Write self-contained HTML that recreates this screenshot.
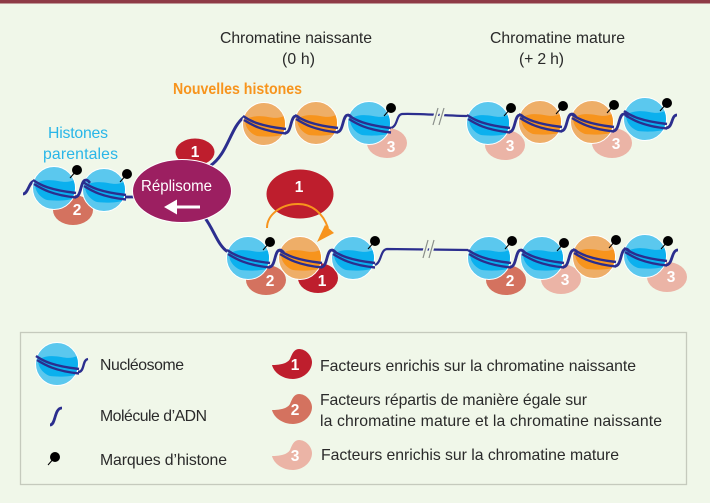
<!DOCTYPE html>
<html lang="fr"><head><meta charset="utf-8"><title>Chromatine</title>
<style>
html,body{margin:0;padding:0;background:#f0f7e9}
svg{display:block}
text{font-family:"Liberation Sans",sans-serif}
.t{font-size:15.8px;fill:#2a2a2a}
.n{font-size:15.5px;font-weight:bold;fill:#fff;text-anchor:middle}
</style></head><body>
<svg width="710" height="503" viewBox="0 0 710 503" xmlns="http://www.w3.org/2000/svg">
<defs>
<clipPath id="c"><circle r="21"/></clipPath>
<g id="dna" fill="none" stroke="#2b2e8e" stroke-width="2.4">
<path d="M-21,-8C-14,-3 -4,2 22,5"/><path d="M-20,-4C-12,1 -2,7 22,9.5"/>
</g>
<path id="band" clip-path="url(#c)" d="M-19,-4C-11,-9 -3,-8 4,-7C10,-6 15,-5 22,-9L22,10C14,13 0,13 -7,12C-13,10 -19,4 -19,-4Z"/>
<g id="b">
<circle r="21.5" fill="#5bc8ee" stroke="#fff" stroke-width="1"/>
<use href="#band" fill="#0bb0ee"/>
<use href="#dna"/>
</g>
<g id="o">
<circle r="21.5" fill="#eeae68" stroke="#fff" stroke-width="1"/>
<use href="#band" fill="#f7941d"/>
<use href="#dna"/>
</g>
<path id="w" d="M0,0C7,0 5,-17 11,-17C13,-17 14,-15 15,-14" fill="none" stroke="#2b2e8e" stroke-width="2.8"/>
<g id="m"><line x1="0" y1="0" x2="-7" y2="8" stroke="#000" stroke-width="1"/><circle r="5" fill="#000"/></g>
<path id="lb" d="M-20,1C-13,1 -5,0 -2,-5C0,-10 2,-15 7,-15C14,-15 20,-8 20,-2C20,8 10,15 1,15C-9,15 -18,9 -20,1Z"/>
</defs>

<rect width="710" height="503" fill="#f0f7e9"/>
<rect width="710" height="3.5" fill="#8e3b46"/>

<!-- headers -->
<text x="220" y="43" class="t" textLength="152" lengthAdjust="spacing">Chromatine naissante</text>
<text x="282" y="64" class="t" textLength="33" lengthAdjust="spacing">(0 h)</text>
<text x="490" y="43" class="t" textLength="135" lengthAdjust="spacing">Chromatine mature</text>
<text x="519" y="64" class="t" textLength="45" lengthAdjust="spacing">(+ 2 h)</text>
<text x="173" y="94" font-size="16" font-weight="bold" fill="#f7941d" textLength="129" lengthAdjust="spacingAndGlyphs">Nouvelles histones</text>
<text x="48" y="138" font-size="15.8" fill="#29b6e8" textLength="60" lengthAdjust="spacing">Histones</text>
<text x="43" y="159" font-size="15.8" fill="#29b6e8" textLength="75" lengthAdjust="spacing">parentales</text>

<!-- connectors -->
<path d="M210,166C228,154 230,128 244,117" fill="none" stroke="#2b2e8e" stroke-width="3"/>
<path d="M205,218C214,230 218,246 228,252" fill="none" stroke="#2b2e8e" stroke-width="3"/>
<path d="M391,128C398,126 396,115 402,114C414,113 450,116 468,116" fill="none" stroke="#2b2e8e" stroke-width="2.2"/>
<path d="M375,265C382,262 380,250 387,249L468,250" fill="none" stroke="#2b2e8e" stroke-width="2.2"/>
<path d="M125,197L140,197" stroke="#2b2e8e" stroke-width="2.8"/>
<path d="M23,194C28,194 29,182 34,181" fill="none" stroke="#2b2e8e" stroke-width="2.8"/>
<path d="M433,125L438,108M439,125L444,108" stroke="#f0f7e9" stroke-width="4.5"/>
<path d="M433,125L438,108M439,125L444,108" stroke="#8a8f8a" stroke-width="1.2"/>
<path d="M423,258L428,240M429,258L434,240" stroke="#f0f7e9" stroke-width="4.5"/>
<path d="M423,258L428,240M429,258L434,240" stroke="#8a8f8a" stroke-width="1.2"/>

<!-- factors behind nucleosomes -->
<g fill="#d4725f">
<ellipse cx="73" cy="210" rx="20" ry="15"/>
<ellipse cx="266" cy="280" rx="20" ry="15"/>
<ellipse cx="506" cy="280" rx="20" ry="15"/>
</g>
<g fill="#ebb4a6">
<ellipse cx="387" cy="143" rx="20" ry="15"/>
<ellipse cx="505" cy="145" rx="20" ry="15"/>
<ellipse cx="612" cy="143" rx="20" ry="15"/>
<ellipse cx="561" cy="279" rx="20" ry="15"/>
<ellipse cx="667" cy="277" rx="20" ry="15"/>
</g>
<ellipse cx="318" cy="278" rx="20" ry="15" fill="#be1e2d"/>
<ellipse cx="195" cy="152" rx="19.5" ry="13.5" fill="#be1e2d"/>

<!-- nucleosomes -->
<use href="#b" x="54" y="188"/><use href="#b" x="104" y="190"/>
<use href="#o" x="264" y="124"/><use href="#o" x="316" y="123"/><use href="#b" x="369" y="123"/>
<use href="#b" x="248" y="258"/><use href="#o" x="300" y="258"/><use href="#b" x="353" y="258"/>
<use href="#b" x="488" y="123"/><use href="#o" x="540" y="122"/><use href="#o" x="592" y="122"/><use href="#b" x="645" y="119"/>
<use href="#b" x="489" y="258"/><use href="#b" x="542" y="258"/><use href="#o" x="594" y="257"/><use href="#b" x="645" y="256"/>

<!-- waves -->
<use href="#w" x="75" y="197"/>
<use href="#w" x="285" y="133"/><use href="#w" x="337" y="132"/>
<use href="#w" x="269" y="267"/><use href="#w" x="321" y="267"/>
<use href="#w" x="509" y="132"/><use href="#w" x="561" y="131"/><use href="#w" x="613" y="131"/>
<path d="M666,128C673,128 671,115 677,115" fill="none" stroke="#2b2e8e" stroke-width="2.8"/>
<use href="#w" x="510" y="267"/><use href="#w" x="563" y="267"/><use href="#w" x="615" y="266"/>
<path d="M666,265C673,265 671,250 678,250" fill="none" stroke="#2b2e8e" stroke-width="2.8"/>

<!-- marks -->
<use href="#m" x="77" y="170"/><use href="#m" x="127" y="174"/>
<use href="#m" x="391" y="108"/><use href="#m" x="270" y="242"/><use href="#m" x="375" y="241"/>
<use href="#m" x="511" y="108"/><use href="#m" x="563" y="106"/><use href="#m" x="614" y="105"/><use href="#m" x="667" y="103"/>
<use href="#m" x="512" y="241"/><use href="#m" x="564" y="243"/><use href="#m" x="616" y="240"/><use href="#m" x="668" y="241"/>

<!-- replisome -->
<ellipse cx="182" cy="191" rx="49.5" ry="31.5" fill="#9c1f61" stroke="#fff" stroke-width="1"/>
<text x="141" y="191" font-size="15.8" fill="#fff" textLength="71" lengthAdjust="spacingAndGlyphs">Réplisome</text>
<path d="M164,207L177,199.5V205.5H200V208.5H177V214.5Z" fill="#fff"/>
<text x="195" y="157" class="n">1</text>

<!-- large factor and arrow -->
<ellipse cx="300" cy="194" rx="33.5" ry="24.5" fill="#be1e2d"/>
<text x="299" y="192" class="n">1</text>
<path d="M267,228C267,214 282,204 298,204C312,204 323,213 328,228" fill="none" stroke="#f7941d" stroke-width="2"/>
<path d="M325,225L334,233L317,242Z" fill="#f7941d"/>

<!-- numbers -->
<g>
<text x="77" y="215" class="n">2</text>
<text x="391" y="152" class="n">3</text>
<text x="270" y="286" class="n">2</text>
<text x="322" y="286" class="n">1</text>
<text x="510" y="151" class="n">3</text>
<text x="616" y="149" class="n">3</text>
<text x="510" y="286" class="n">2</text>
<text x="565" y="285" class="n">3</text>
<text x="671" y="282" class="n">3</text>
</g>

<!-- legend -->
<rect x="20.5" y="332.5" width="666" height="152" fill="none" stroke="#c5cabd" stroke-width="1.3"/>
<use href="#b" x="57" y="364"/>
<path d="M78,372C85,372 82,360 88,359" fill="none" stroke="#2b2e8e" stroke-width="2.4"/>
<path d="M50,425C56,425 54,408 62,408" fill="none" stroke="#2b2e8e" stroke-width="2.8"/>
<use href="#m" x="55" y="457"/>
<text x="100" y="370" class="t" textLength="84" lengthAdjust="spacing">Nucléosome</text>
<text x="100" y="421" class="t" textLength="107" lengthAdjust="spacing">Molécule d’ADN</text>
<text x="100" y="465" class="t" textLength="127" lengthAdjust="spacing">Marques d’histone</text>

<use href="#lb" x="292" y="364" fill="#be1e2d"/>
<use href="#lb" x="292" y="409" fill="#d4725f"/>
<use href="#lb" x="292" y="455" fill="#ebb4a6"/>
<text x="295" y="370" class="n">1</text>
<text x="295" y="415" class="n">2</text>
<text x="295" y="461" class="n">3</text>

<text x="320" y="371" class="t" textLength="316" lengthAdjust="spacing">Facteurs enrichis sur la chromatine naissante</text>
<text x="320" y="405" class="t" textLength="267" lengthAdjust="spacing">Facteurs répartis de manière égale sur</text>
<text x="320" y="426" class="t" textLength="342" lengthAdjust="spacing">la chromatine mature et la chromatine naissante</text>
<text x="321" y="460" class="t" textLength="298" lengthAdjust="spacing">Facteurs enrichis sur la chromatine mature</text>
</svg>
</body></html>
